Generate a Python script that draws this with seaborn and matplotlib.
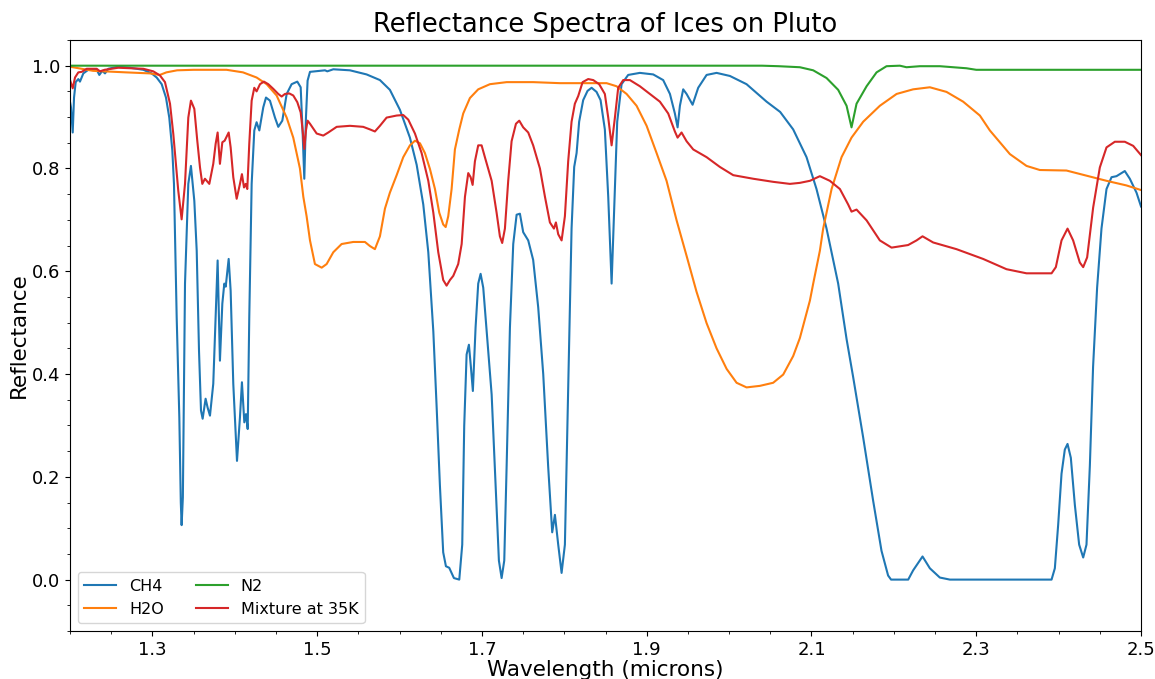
import numpy as np
import pandas as pd
import seaborn as sns
from matplotlib import pyplot as plt
from matplotlib.ticker import AutoMinorLocator, MultipleLocator

CH4_WL = [1.2000, 1.2012, 1.2033, 1.2049, 1.2069, 1.2101, 1.2121, 1.2162, 1.2222, 1.2324,
          1.2356, 1.2392, 1.2425, 1.2465, 1.2586, 1.2728, 1.2890, 1.2991, 1.3052, 1.3113,
          1.3165, 1.3205, 1.3242, 1.3262, 1.3295, 1.3327, 1.3345, 1.3355, 1.3370, 1.3396,
          1.3436, 1.3468, 1.3509, 1.3538, 1.3566, 1.3590, 1.3610, 1.3646, 1.3670, 1.3699,
          1.3739, 1.3768, 1.3792, 1.3820, 1.3849, 1.3873, 1.3890, 1.3926, 1.3950, 1.3982,
          1.4027, 1.4063, 1.4087, 1.4116, 1.4136, 1.4157, 1.4176, 1.4205, 1.4237, 1.4265,
          1.4298, 1.4346, 1.4379, 1.4427, 1.4488, 1.4528, 1.4577, 1.4630, 1.4690, 1.4759,
          1.4800, 1.4824, 1.4844, 1.4864, 1.4884, 1.4913, 1.5095, 1.5123, 1.5196, 1.5398,
          1.5600, 1.5762, 1.5883, 1.6005, 1.6126, 1.6208, 1.6288, 1.6349, 1.6410, 1.6450,
          1.6490, 1.6530, 1.6563, 1.6603, 1.6660, 1.6725, 1.6761, 1.6785, 1.6814, 1.6842,
          1.6866, 1.6890, 1.6923, 1.6955, 1.6984, 1.7016, 1.7065, 1.7118, 1.7166, 1.7206,
          1.7239, 1.7271, 1.7300, 1.7340, 1.7380, 1.7421, 1.7461, 1.7501, 1.7562, 1.7622,
          1.7683, 1.7744, 1.7804, 1.7853, 1.7886, 1.7926, 1.7967, 1.8007, 1.8047, 1.8088,
          1.8120, 1.8149, 1.8180, 1.8229, 1.8282, 1.8331, 1.8391, 1.8440, 1.8492, 1.8533,
          1.8574, 1.8605, 1.8642, 1.8695, 1.8775, 1.8917, 1.9079, 1.9200, 1.9282, 1.9342,
          1.9375, 1.9403, 1.9443, 1.9484, 1.9557, 1.9625, 1.9727, 1.9848, 2.0010, 2.0212,
          2.0455, 2.0620, 2.0778, 2.0940, 2.1061, 2.1183, 2.1324, 2.1426, 2.1506, 2.1627,
          2.1748, 2.1850, 2.1930, 2.1966, 2.2174, 2.2234, 2.2348, 2.2437, 2.2558, 2.2680,
          2.3914, 2.3954, 2.3994, 2.4035, 2.4075, 2.4108, 2.4148, 2.4197, 2.4249, 2.4298,
          2.4338, 2.4379, 2.4418, 2.4467, 2.4520, 2.4581, 2.4642, 2.4702, 2.4803, 2.4864,
          2.4945, 2.5000]
CH4_R = [0.930, 0.919, 0.870, 0.938, 0.968, 0.974, 0.969, 0.985, 0.992, 0.992,
         0.982, 0.990, 0.985, 0.994, 0.998, 0.996, 0.992, 0.985, 0.977, 0.964,
         0.938, 0.899, 0.835, 0.770, 0.510, 0.316, 0.150, 0.106, 0.160, 0.576,
         0.770, 0.805, 0.737, 0.640, 0.445, 0.329, 0.313, 0.352, 0.335, 0.319,
         0.381, 0.510, 0.621, 0.426, 0.537, 0.576, 0.570, 0.624, 0.562, 0.381,
         0.231, 0.316, 0.384, 0.306, 0.322, 0.293, 0.510, 0.770, 0.874, 0.890,
         0.874, 0.919, 0.938, 0.932, 0.899, 0.881, 0.893, 0.945, 0.964, 0.969,
         0.958, 0.868, 0.780, 0.899, 0.971, 0.988, 0.991, 0.989, 0.993, 0.991,
         0.983, 0.972, 0.953, 0.914, 0.860, 0.807, 0.730, 0.637, 0.483, 0.337,
         0.183, 0.053, 0.026, 0.023, 0.003, 0.000, 0.068, 0.299, 0.438, 0.457,
         0.414, 0.367, 0.491, 0.576, 0.595, 0.568, 0.468, 0.360, 0.183, 0.037,
         0.003, 0.037, 0.222, 0.491, 0.653, 0.710, 0.712, 0.676, 0.660, 0.622,
         0.530, 0.400, 0.220, 0.092, 0.126, 0.068, 0.013, 0.068, 0.376, 0.683,
         0.803, 0.830, 0.891, 0.933, 0.951, 0.957, 0.949, 0.933, 0.876, 0.745,
         0.576, 0.722, 0.891, 0.964, 0.982, 0.986, 0.983, 0.972, 0.945, 0.907,
         0.880, 0.922, 0.954, 0.945, 0.924, 0.957, 0.982, 0.986, 0.980, 0.964,
         0.930, 0.910, 0.876, 0.822, 0.760, 0.683, 0.576, 0.468, 0.394, 0.277,
         0.154, 0.056, 0.008, 0.000, 0.000, 0.018, 0.045, 0.022, 0.004, 0.000,
         0.000, 0.022, 0.106, 0.206, 0.253, 0.264, 0.237, 0.145, 0.068, 0.043,
         0.068, 0.222, 0.414, 0.568, 0.683, 0.760, 0.783, 0.785, 0.795, 0.780,
         0.753, 0.726]

H2O_WL = [1.2000, 1.2280, 1.2680, 1.2970, 1.3090, 1.3170, 1.3300, 1.3500, 1.3900, 1.4100,
          1.4265, 1.4387, 1.4508, 1.4630, 1.4710, 1.4791, 1.4832, 1.4872, 1.4913, 1.4973,
          1.5055, 1.5115, 1.5196, 1.5297, 1.5438, 1.5580, 1.5641, 1.5701, 1.5762, 1.5823,
          1.5883, 1.5965, 1.6045, 1.6126, 1.6187, 1.6248, 1.6308, 1.6369, 1.6430, 1.6482,
          1.6530, 1.6560, 1.6591, 1.6632, 1.6672, 1.6725, 1.6773, 1.6854, 1.6955, 1.7097,
          1.7300, 1.7622, 1.7947, 1.8513, 1.8634, 1.8756, 1.8877, 1.8999, 1.9120, 1.9241,
          1.9363, 1.9484, 1.9605, 1.9727, 1.9848, 1.9970, 2.0091, 2.0212, 2.0374, 2.0535,
          2.0657, 2.0778, 2.0859, 2.0981, 2.1021, 2.1102, 2.1142, 2.1244, 2.1365, 2.1486,
          2.1628, 2.1830, 2.2033, 2.2234, 2.2437, 2.2639, 2.2841, 2.3044, 2.3165, 2.3408,
          2.3610, 2.3772, 2.4095, 2.4338, 2.4581, 2.4823, 2.5000]
H2O_R = [0.998, 0.990, 0.987, 0.985, 0.982, 0.987, 0.991, 0.992, 0.992, 0.987,
         0.977, 0.964, 0.942, 0.899, 0.860, 0.800, 0.745, 0.707, 0.660, 0.614,
         0.607, 0.614, 0.637, 0.653, 0.657, 0.657, 0.649, 0.643, 0.668, 0.722,
         0.753, 0.787, 0.822, 0.845, 0.854, 0.849, 0.830, 0.799, 0.760, 0.714,
         0.691, 0.686, 0.707, 0.760, 0.837, 0.876, 0.907, 0.937, 0.954, 0.964,
         0.968, 0.968, 0.966, 0.966, 0.960, 0.945, 0.922, 0.883, 0.830, 0.776,
         0.699, 0.630, 0.560, 0.499, 0.450, 0.410, 0.383, 0.374, 0.377, 0.383,
         0.399, 0.435, 0.470, 0.543, 0.576, 0.640, 0.683, 0.760, 0.822, 0.860,
         0.891, 0.922, 0.945, 0.954, 0.958, 0.949, 0.930, 0.903, 0.874, 0.828,
         0.805, 0.797, 0.796, 0.786, 0.776, 0.767, 0.758]

N2_WL = [1.2000, 1.5000, 1.8000, 2.0400, 2.0600, 2.0859, 2.1021, 2.1183, 2.1324, 2.1426,
         2.1486, 2.1547, 2.1669, 2.1790, 2.1911, 2.2073, 2.2153, 2.2316, 2.2558, 2.2881,
         2.3000, 2.5000]
N2_R = [1.000, 1.000, 1.000, 1.000, 0.999, 0.997, 0.991, 0.976, 0.953, 0.922,
        0.880, 0.926, 0.960, 0.987, 0.999, 1.000, 0.997, 0.999, 0.999, 0.995,
        0.992, 0.992]

MIX_WL = [1.2000, 1.2033, 1.2061, 1.2101, 1.2142, 1.2203, 1.2324, 1.2364, 1.2420, 1.2586,
          1.2890, 1.3011, 1.3092, 1.3153, 1.3214, 1.3254, 1.3314, 1.3355, 1.3396, 1.3436,
          1.3468, 1.3509, 1.3545, 1.3578, 1.3606, 1.3638, 1.3691, 1.3739, 1.3768, 1.3792,
          1.3820, 1.3849, 1.3877, 1.3926, 1.3950, 1.3982, 1.4023, 1.4063, 1.4087, 1.4112,
          1.4132, 1.4152, 1.4176, 1.4205, 1.4237, 1.4265, 1.4306, 1.4354, 1.4407, 1.4467,
          1.4528, 1.4569, 1.4609, 1.4662, 1.4710, 1.4759, 1.4800, 1.4824, 1.4844, 1.4864,
          1.4884, 1.4913, 1.4994, 1.5074, 1.5135, 1.5237, 1.5398, 1.5559, 1.5641, 1.5701,
          1.5762, 1.5843, 1.5965, 1.6045, 1.6106, 1.6187, 1.6268, 1.6349, 1.6410, 1.6470,
          1.6530, 1.6571, 1.6612, 1.6652, 1.6712, 1.6754, 1.6794, 1.6834, 1.6863, 1.6887,
          1.6915, 1.6955, 1.6996, 1.7036, 1.7118, 1.7178, 1.7218, 1.7246, 1.7279, 1.7319,
          1.7360, 1.7413, 1.7453, 1.7501, 1.7562, 1.7622, 1.7704, 1.7765, 1.7825, 1.7874,
          1.7898, 1.7926, 1.7967, 1.8007, 1.8047, 1.8088, 1.8128, 1.8169, 1.8222, 1.8290,
          1.8351, 1.8423, 1.8492, 1.8533, 1.8574, 1.8614, 1.8654, 1.8715, 1.8796, 1.8917,
          1.9039, 1.9160, 1.9261, 1.9342, 1.9375, 1.9423, 1.9484, 1.9565, 1.9727, 1.9888,
          2.0050, 2.0293, 2.0535, 2.0738, 2.0859, 2.0981, 2.1102, 2.1223, 2.1345, 2.1445,
          2.1486, 2.1547, 2.1669, 2.1830, 2.1972, 2.2173, 2.2275, 2.2348, 2.2477, 2.2760,
          2.3083, 2.3367, 2.3610, 2.3914, 2.3966, 2.4035, 2.4108, 2.4176, 2.4257, 2.4298,
          2.4346, 2.4419, 2.4500, 2.4581, 2.4682, 2.4803, 2.4905, 2.5000]
MIX_R = [0.972, 0.956, 0.977, 0.987, 0.988, 0.994, 0.994, 0.989, 0.992, 0.996,
         0.994, 0.989, 0.981, 0.968, 0.926, 0.867, 0.757, 0.701, 0.770, 0.899,
         0.932, 0.916, 0.854, 0.802, 0.770, 0.780, 0.770, 0.809, 0.848, 0.870,
         0.809, 0.851, 0.854, 0.870, 0.841, 0.783, 0.741, 0.770, 0.789, 0.763,
         0.770, 0.760, 0.848, 0.932, 0.957, 0.950, 0.964, 0.969, 0.964, 0.955,
         0.945, 0.940, 0.945, 0.946, 0.942, 0.929, 0.909, 0.874, 0.838, 0.874,
         0.893, 0.887, 0.868, 0.864, 0.870, 0.881, 0.883, 0.881, 0.876, 0.872,
         0.883, 0.899, 0.903, 0.904, 0.895, 0.868, 0.830, 0.776, 0.714, 0.637,
         0.583, 0.572, 0.583, 0.591, 0.614, 0.653, 0.745, 0.791, 0.783, 0.768,
         0.814, 0.845, 0.845, 0.822, 0.776, 0.714, 0.668, 0.655, 0.683, 0.776,
         0.853, 0.887, 0.893, 0.880, 0.870, 0.845, 0.800, 0.745, 0.695, 0.683,
         0.695, 0.672, 0.660, 0.707, 0.814, 0.891, 0.926, 0.941, 0.968, 0.974,
         0.972, 0.964, 0.945, 0.899, 0.845, 0.899, 0.957, 0.972, 0.972, 0.960,
         0.945, 0.930, 0.907, 0.872, 0.860, 0.870, 0.853, 0.837, 0.822, 0.803,
         0.787, 0.780, 0.774, 0.770, 0.772, 0.776, 0.785, 0.776, 0.760, 0.730,
         0.716, 0.720, 0.699, 0.660, 0.646, 0.651, 0.660, 0.668, 0.656, 0.643,
         0.624, 0.604, 0.596, 0.596, 0.608, 0.660, 0.683, 0.660, 0.617, 0.608,
         0.627, 0.724, 0.802, 0.841, 0.852, 0.852, 0.844, 0.826]

LABELS = ['CH4', 'H2O', 'N2', 'Mixture at 35K']
COLORS = ['#1f77b4', '#ff7f0e', '#2ca02c', '#d62728']


def build_frame():
    parts = []
    for label, wl, r in zip(LABELS, [CH4_WL, H2O_WL, N2_WL, MIX_WL], [CH4_R, H2O_R, N2_R, MIX_R]):
        parts.append(pd.DataFrame({'Wavelength': wl, 'Reflectance': r, 'Ice': label}))
    return pd.concat(parts, ignore_index=True)


df = build_frame()

fig = plt.figure(figsize=(11.55, 6.79), dpi=100)
ax = fig.add_axes([0.0606, 0.0707, 0.9273, 0.8704])

sns.lineplot(data=df, x='Wavelength', y='Reflectance', hue='Ice', hue_order=LABELS,
             palette=COLORS, estimator=None, linewidth=1.5, ax=ax)

ax.set_xlim(1.2, 2.5)
ax.set_ylim(-0.1, 1.05)
ax.xaxis.set_major_locator(MultipleLocator(0.2, offset=0.1))
ax.xaxis.set_minor_locator(MultipleLocator(0.05))
ax.yaxis.set_minor_locator(AutoMinorLocator())
ax.tick_params(axis='both', which='major', labelsize=13)

ax.set_title('Reflectance Spectra of Ices on Pluto', fontsize=18.5)
ax.set_xlabel('Wavelength (microns)', fontsize=15.5, labelpad=1)
ax.set_ylabel('Reflectance', fontsize=15.5, labelpad=2)
ax.legend(loc='lower left', ncol=2, fontsize=11.5)

fig.savefig('out.png', dpi=100)
